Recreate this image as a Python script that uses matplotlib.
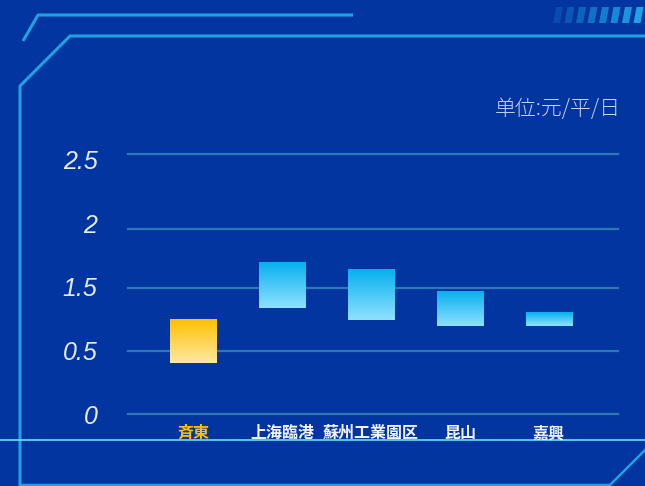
import matplotlib.pyplot as plt
import numpy as np
from matplotlib.colors import to_rgba
from matplotlib.patches import Polygon

plt.rcParams["font.family"] = ["Noto Sans CJK JP", "DejaVu Sans"]

# --- データ (単位: 元/平/日) ---
categories = ["斉東", "上海臨港", "蘇州工業園区", "昆山", "嘉興"]
price_low = [0.40, 0.835, 0.74, 0.69, 0.69]
price_high = [0.74, 1.19, 1.14, 0.96, 0.795]
tick_values = [0, 0.5, 1.0, 1.5, 2.0]
tick_labels = ["0", "0.5", "1.5", "2", "2.5"]
grid_levels = [0, 0.496, 0.992, 1.457, 2.047]
highlight = "斉東"

BG = "#0335a0"
LINE = "#1ea2e4"
GRID = "#2f78b4"

fig = plt.figure(figsize=(6.45, 4.86), dpi=100, facecolor=BG)

# 背景の装飾 (ピクセル座標)
deco = fig.add_axes((0, 0, 1, 1), zorder=0)
deco.set_xlim(0, 645)
deco.set_ylim(486, 0)
deco.axis("off")
deco.plot([23, 38, 353], [41, 15, 15], color=LINE, lw=2.2, solid_capstyle="butt")
deco.plot([20, 20, 70, 645], [486, 86, 36, 36], color=LINE, lw=2.2, solid_joinstyle="miter")
deco.plot([0, 645], [440, 440], color="#5fe4f6", lw=1.2)
deco.plot([20, 610, 645], [485, 485, 450], color=LINE, lw=1.8)
for i in range(8):
    x0 = 553 + i * 11.5
    c = to_rgba(LINE)
    alpha = 0.2 + 0.8 * i / 7
    deco.add_patch(
        Polygon(
            [(x0, 23), (x0 + 7, 23), (x0 + 10, 7), (x0 + 3, 7)],
            closed=True,
            facecolor=(c[0], c[1], c[2], alpha),
            edgecolor="none",
        )
    )

ax = fig.add_axes((0.1984, 0.1481, 0.7597, 0.5494), zorder=1)
ax.set_facecolor("none")

x = np.arange(len(categories))
heights = [h - l for l, h in zip(price_low, price_high)]
bars = ax.bar(x, heights, bottom=price_low, width=0.52, color="none", zorder=3)

# グラデーション塗り
n = 64
for rect, cat in zip(bars, categories):
    if cat == highlight:
        top, bot = to_rgba("#ffc000"), to_rgba("#ffe8a2")
    else:
        top, bot = to_rgba("#07b0ee"), to_rgba("#8fe1ff")
    t = np.linspace(0, 1, n)[:, None, None]
    grad = (1 - t) * np.array(top)[None, None, :] + t * np.array(bot)[None, None, :]
    bx, by = rect.get_x(), rect.get_y()
    ax.imshow(
        grad,
        extent=(bx, bx + rect.get_width(), by, by + rect.get_height()),
        origin="upper",
        aspect="auto",
        zorder=3,
    )

for g in grid_levels:
    ax.axhline(g, color=GRID, lw=1.6, zorder=1, clip_on=False)

ax.set_xlim(-0.73, 4.775)
ax.set_ylim(0, 2.1)
for s in ax.spines.values():
    s.set_visible(False)

ax.set_yticks(tick_values)
ax.set_yticklabels(tick_labels, family="Liberation Sans", style="italic", fontsize=18, color="#e6ecfa")
ax.set_xticks(x)
ax.set_xticklabels(categories, fontsize=11.5, fontweight="bold")
for lbl, cat in zip(ax.get_xticklabels(), categories):
    lbl.set_color("#ffc000" if cat == highlight else "#f2f5fc")
ax.tick_params(axis="y", length=0, pad=22)
ax.tick_params(axis="x", length=0, pad=8)

fig.text(0.962, 0.776, "单位:元/平/日", ha="right", va="center", fontsize=15,
         fontweight="light", color="#c9d5f2")

plt.savefig("out.png", dpi=100, facecolor=BG)
plt.close()
